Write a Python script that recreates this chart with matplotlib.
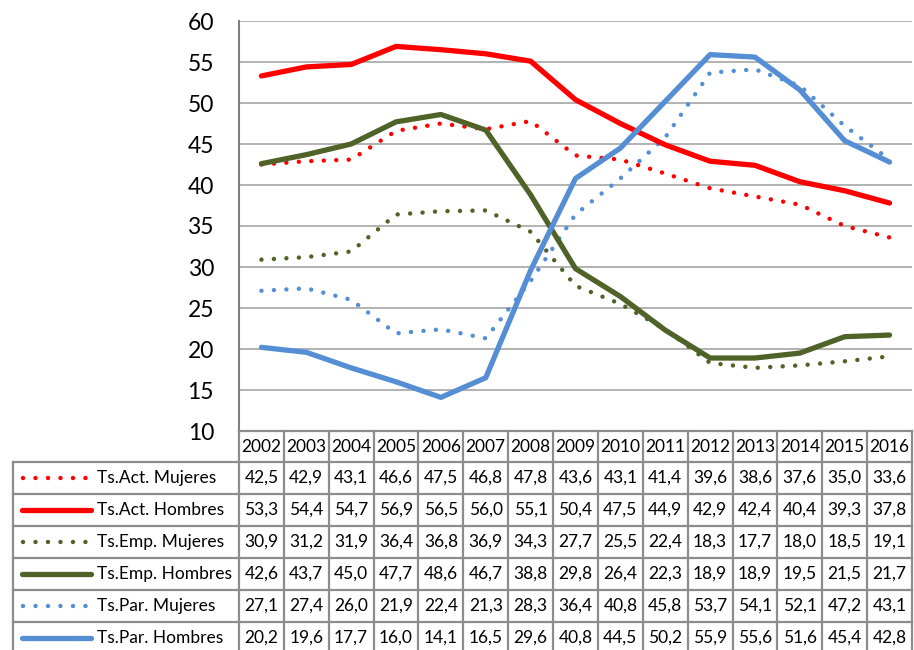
import numpy as np
import matplotlib
matplotlib.use("Agg")
from matplotlib import pyplot as plt
from matplotlib.lines import Line2D

plt.rcParams['font.family'] = ['Lato', 'DejaVu Sans']

years = ['2002', '2003', '2004', '2005', '2006', '2007', '2008', '2009',
         '2010', '2011', '2012', '2013', '2014', '2015', '2016']

act_muj = [42.5, 42.9, 43.1, 46.6, 47.5, 46.8, 47.8, 43.6, 43.1, 41.4, 39.6, 38.6, 37.6, 35.0, 33.6]
act_hom = [53.3, 54.4, 54.7, 56.9, 56.5, 56.0, 55.1, 50.4, 47.5, 44.9, 42.9, 42.4, 40.4, 39.3, 37.8]
emp_muj = [30.9, 31.2, 31.9, 36.4, 36.8, 36.9, 34.3, 27.7, 25.5, 22.4, 18.3, 17.7, 18.0, 18.5, 19.1]
emp_hom = [42.6, 43.7, 45.0, 47.7, 48.6, 46.7, 38.8, 29.8, 26.4, 22.3, 18.9, 18.9, 19.5, 21.5, 21.7]
par_muj = [27.1, 27.4, 26.0, 21.9, 22.4, 21.3, 28.3, 36.4, 40.8, 45.8, 53.7, 54.1, 52.1, 47.2, 43.1]
par_hom = [20.2, 19.6, 17.7, 16.0, 14.1, 16.5, 29.6, 40.8, 44.5, 50.2, 55.9, 55.6, 51.6, 45.4, 42.8]

labels = ['Ts.Act. Mujeres', 'Ts.Act. Hombres', 'Ts.Emp. Mujeres',
          'Ts.Emp. Hombres', 'Ts.Par. Mujeres', 'Ts.Par. Hombres']
series = [act_muj, act_hom, emp_muj, emp_hom, par_muj, par_hom]

RED = '#FF0000'
GREEN = '#4F6228'
BLUE = '#558ED5'
colors = [RED, RED, GREEN, GREEN, BLUE, BLUE]
dotted = [True, False, True, False, True, False]

W, H = 914, 650
fig = plt.figure(figsize=(W / 100, H / 100), dpi=100)

# pixel layout
x0, x1 = 239, 912
y_top, y_bot = 21, 431
ax = fig.add_axes([x0 / W, 1 - y_bot / H, (x1 - x0) / W, (y_bot - y_top) / H])

DOTS = (0, (0.01, 2.8))

xs = np.arange(len(years))
for vals, c, d in zip(series, colors, dotted):
    if d:
        ax.plot(xs, vals, color=c, lw=3.2, linestyle=DOTS,
                dash_capstyle='round', zorder=3)
    else:
        ax.plot(xs, vals, color=c, lw=3.8, solid_capstyle='round',
                solid_joinstyle='round', zorder=4)

ax.set_xlim(-0.5, len(years) - 0.5)
ax.set_ylim(10, 60)
ax.set_yticks(range(10, 61, 5))
ax.set_xticks([])
ax.tick_params(axis='y', length=0, labelsize=16.5, pad=18)
ax.grid(axis='y', color='#A6A6A6', lw=1.2)
ax.set_axisbelow(True)
for s in ['top', 'right', 'bottom']:
    ax.spines[s].set_visible(False)
ax.spines['left'].set_color('#808080')
ax.spines['left'].set_linewidth(1.5)

# data table below the plot
def fx(px):
    return px / W

def fy(py):
    return 1 - py / H

border = '#8C8C8C'
blw = 1.6
row_h = 32
head_top = 431
head_bot = 462
col_w = (x1 - x0) / len(years)
leg_x0 = 13
fs = 12.5

def hline(xa, xb, y):
    fig.add_artist(Line2D([fx(xa), fx(xb)], [fy(y), fy(y)], color=border, lw=blw))

def vline(x, ya, yb):
    fig.add_artist(Line2D([fx(x), fx(x)], [fy(ya), fy(yb)], color=border, lw=blw))

# header
hline(x0, x1, head_top)
for i, yr in enumerate(years):
    cx = x0 + (i + 0.5) * col_w
    fig.text(fx(cx), fy((head_top + head_bot) / 2), yr, ha='center', va='center', fontsize=fs)
for i in range(len(years) + 1):
    vline(x0 + i * col_w, head_top, H + 5)
hline(leg_x0, x1, head_bot)
vline(leg_x0, head_bot, H + 5)

for r, (lab, vals, c, d) in enumerate(zip(labels, series, colors, dotted)):
    ya = head_bot + r * row_h
    yb = ya + row_h
    ym = (ya + yb) / 2
    hline(leg_x0, x1, yb)
    if d:
        fig.add_artist(Line2D([fx(23), fx(87)], [fy(ym), fy(ym)], color=c, lw=3.2,
                              linestyle=DOTS, dash_capstyle='round'))
    else:
        fig.add_artist(Line2D([fx(22), fx(91)], [fy(ym), fy(ym)], color=c, lw=3.8,
                              solid_capstyle='round'))
    fig.text(fx(97), fy(ym), lab, ha='left', va='center', fontsize=fs)
    for i, v in enumerate(vals):
        cx = x0 + (i + 0.5) * col_w
        fig.text(fx(cx), fy(ym), f'{v:.1f}'.replace('.', ','), ha='center', va='center',
                 fontsize=fs)

fig.savefig('out.png', dpi=100)
